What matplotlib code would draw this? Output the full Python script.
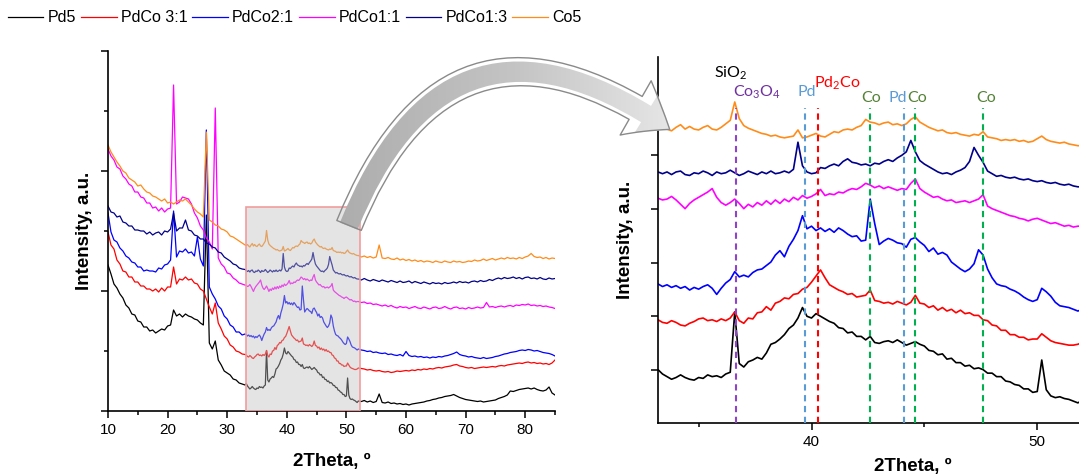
import numpy as np
import matplotlib
matplotlib.use("Agg")
import matplotlib.pyplot as plt
from matplotlib.patches import Rectangle, FancyArrowPatch
from matplotlib.ticker import MultipleLocator, FixedLocator
from matplotlib.colors import LinearSegmentedColormap

plt.rcParams['font.family'] = ['Liberation Sans', 'DejaVu Sans']
plt.rcParams['mathtext.default'] = 'regular'

# 2theta grid: 0.5 deg steps at low angle, 0.2 deg through the zoomed window, 0.5 deg above
two_theta = np.concatenate([np.linspace(10, 32.5, 46),
                            np.linspace(33, 51.8, 95),
                            np.linspace(52, 85, 67)])

# intensities (a.u., already stacked)
pd5 = [146, 137, 127, 123, 117, 113, 106, 103, 97, 96, 90, 89, 84, 84, 80, 81, 78, 80, 82, 81,
       85, 86, 101, 95, 97, 94, 97, 95, 94, 92, 91, 88, 86, 196, 68, 62, 70, 51, 46, 40,
       38, 36, 32, 31, 28, 27,
       26, 27.5, 25, 23.5, 22, 23, 24.5, 23, 22, 21.5, 23, 22.5, 24.5, 23.5, 24, 23, 25, 26, 60.5, 31,
       29, 32, 33, 34.5, 33.5, 37, 42, 43, 45, 47.5, 51, 53, 57, 63, 58, 57, 59.5, 58, 56.5, 55,
       54, 51.5, 51, 48.5, 49, 46.5, 46.5, 44.5, 46.5, 43, 42.5, 43.5, 44, 43, 44.5, 43, 41.5, 42.5, 43.5, 42,
       41, 38.5, 38, 36, 36.5, 33.5, 34, 31.5, 31.5, 29.5, 30, 28, 28.5, 27.5, 25.5, 25.5, 23.5, 23.5, 21, 20.5,
       19, 18.5, 16.5, 16.5, 14.5, 15, 33, 16, 12.5, 11.5, 12, 11, 10.5, 9.5, 8.5,
       10, 9.5, 10.5, 9, 10, 8.5, 9.5, 17, 8.5, 8, 9, 7.5, 8, 7, 7.5, 6.5, 7, 6, 7, 7.5,
       8, 8.5, 9, 10, 10.5, 11.5, 12, 13, 13.5, 14.5, 15, 15.5, 16.5, 15, 13.5, 12.5, 11.5, 11, 10.5, 10,
       9.5, 10, 9, 9.5, 10, 10.5, 11, 12.5, 13.5, 14.5, 16, 20, 19.5, 20.5, 21.5, 22, 22.5, 23, 22, 23,
       21.5, 20.5, 20, 21, 24, 18, 16]

pdco_3_1 = [179, 166, 162, 151, 147, 140, 139, 134, 134, 129, 129, 125, 125, 122, 122, 120, 122, 119, 123, 120,
            124, 124, 144, 127, 132, 131, 134, 131, 132, 128, 127, 122, 120, 112, 104, 97, 108, 88, 82, 75,
            72, 66, 64, 60, 59, 57,
            56.5, 56, 54.5, 54, 55.5, 54.5, 53, 52.5, 54, 55, 56.5, 57, 55.5, 56, 55, 56.5, 55.5, 57, 60.5, 55.5,
            54, 57, 56.5, 60, 60.5, 63.5, 61.5, 65.5, 66.5, 68.5, 68, 70.5, 71, 73.5, 74.5, 77.5, 81, 84.5, 80, 76,
            74.5, 73, 72, 70.5, 71, 69, 69.5, 70, 73, 67, 66.5, 65.5, 66, 65, 66.5, 65.5, 64.5, 66, 70, 65.5,
            65, 63, 64, 61.5, 63, 61, 62, 60, 61.5, 59.5, 60, 58.5, 58.5, 56, 55.5, 53, 52.5, 50, 50, 47.5,
            47.5, 46, 46, 44.5, 45, 45, 48, 46, 44, 43, 42.5, 42, 41.5, 41.5, 42,
            43, 42.5, 42, 41, 41.5, 40.5, 40, 40.5, 39.5, 39, 39.5, 38.5, 39, 40, 39.5, 40, 40.5, 40, 41, 40.5,
            41.5, 41, 42, 41.5, 42.5, 42, 43, 43.5, 43, 44, 44.5, 45, 46, 46.5, 45, 44.5, 43.5, 43, 43.5, 42.5,
            43, 43.5, 44, 43.5, 44, 44.5, 44, 45, 45.5, 45, 46, 46.5, 47, 47.5, 48, 47.5, 48.5, 49, 48, 48.5,
            47.5, 48, 47, 47.5, 46.5, 48, 51]

pdco_2_1 = [198, 179, 171, 169, 163, 160, 155, 153, 149, 148, 144, 144, 140, 141, 140, 140, 139, 143, 142, 146,
            147, 151, 200, 154, 160, 159, 162, 158, 159, 155, 174, 152, 145, 281, 124, 117, 112, 105, 102, 95,
            92, 86, 84, 79, 79, 76,
            77, 76.5, 75, 76, 74.5, 75.5, 74, 75, 73, 74.5, 73.5, 75, 76, 74, 70.5, 74, 77, 79, 83.5, 80.5,
            81.5, 80.5, 83, 84.5, 85, 87, 89, 93, 95.5, 92, 98, 102, 107, 115.5, 108, 109.5, 107, 108.5, 106.5, 108,
            106, 108.5, 107, 105, 103.5, 104, 101, 101.5, 125, 111, 99, 101, 102.5, 101.5, 100, 99.5, 97.5, 102, 103, 100.5,
            98.5, 95, 97, 93.5, 94.5, 93, 89, 87, 85, 83.5, 85, 88, 96, 93, 85, 80, 76.5, 75.5, 75, 73.5,
            72.5, 71, 69, 67.5, 66.5, 67.5, 74, 72, 69.5, 66, 64, 63.5, 63, 62, 61,
            62, 61, 60.5, 59.5, 60, 58.5, 59, 58, 57.5, 58, 56.5, 57, 56, 55.5, 56.5, 55, 59.5, 55.5, 54.5, 55,
            54, 54.5, 53.5, 54, 53, 54, 53.5, 54.5, 54, 55, 55.5, 56.5, 57.5, 59, 56.5, 55.5, 55, 54, 54.5, 53.5,
            53, 52.5, 53.5, 52.5, 53, 53.5, 54.5, 55, 56, 57, 57.5, 58.5, 59, 59.5, 60.5, 61, 60.5, 61.5, 61, 60,
            60.5, 59.5, 58.5, 58, 57.5, 56.5, 55]

pdco_1_1 = [262, 255, 251, 244, 242, 235, 232, 227, 225, 219, 219, 214, 213, 208, 208, 203, 204, 200, 203, 199,
            202, 203, 326, 207, 209, 214, 213, 212, 207, 198, 193, 185, 181, 173, 169, 162, 303, 153, 147, 144,
            138, 137, 133, 131, 128, 127,
            126, 125.5, 124.5, 125, 126.5, 124.5, 122, 119.5, 122.5, 124.5, 126, 127.5, 129, 131, 126, 123, 121.5, 123, 125, 122.5,
            119.5, 122, 120.5, 123, 121.5, 124, 122, 124.5, 122.5, 125, 123.5, 126, 124.5, 127, 125.5, 126.5, 128, 130.5, 127, 128,
            127.5, 129, 128.5, 130, 131, 130.5, 132, 134, 133, 131.5, 132.5, 131, 132, 131, 130, 131, 130.5, 134, 136.5, 131,
            129, 127.5, 126, 126.5, 125, 124, 124.5, 123, 123.5, 124, 123, 124, 125, 127.5, 121, 119.5, 118.5, 117.5, 116.5, 115.5,
            115, 114, 113.5, 112.5, 113.5, 114, 113, 112, 111, 111.5, 110.5, 109.5, 110, 109, 109.5,
            109.5, 108.5, 109, 107.5, 108, 106.5, 107, 106, 105, 106, 104.5, 105.5, 104, 103, 104.5, 103.5, 104, 102.5, 103.5, 104.5,
            103, 102.5, 104, 103, 102, 103.5, 104, 102.5, 103, 104.5, 103, 102, 103.5, 104, 102.5, 103, 102, 103.5, 102.5, 103,
            104, 103, 103.5, 108.5, 104, 104.5, 103.5, 104.5, 105, 104, 105, 105.5, 104.5, 106, 105.5, 106.5, 106, 107, 105.5, 106,
            105, 105.5, 104.5, 105, 104, 103.5, 102.5]

pdco_1_3 = [205, 199, 198, 194, 195, 189, 188, 185, 185, 181, 181, 180, 180, 177, 179, 176, 178, 179, 176, 180,
            179, 182, 198, 180, 183, 183, 191, 181, 180, 176, 175, 172, 172, 168, 167, 164, 163, 159, 158, 154,
            152, 150, 147, 146, 143, 142,
            141.5, 140.5, 139.5, 140.5, 139, 140.5, 141, 139, 138.5, 140, 139.5, 141, 140, 138.5, 140.5, 139.5, 140, 141.5, 140, 138.5,
            139.5, 141, 140, 139, 140.5, 139.5, 141, 139.5, 140, 141, 140, 142, 157.5, 144, 140.5, 139.5, 140, 143, 142.5, 144,
            145, 144, 146.5, 148, 146, 145.5, 144.5, 145, 144, 145.5, 145, 146.5, 147.5, 146.5, 148.5, 150, 152, 158.5, 152, 147,
            145, 143.5, 142, 140.5, 139.5, 140, 139, 140.5, 141.5, 143, 146.5, 154.5, 150, 146, 141, 139.5, 138, 138.5, 137.5, 137,
            137.5, 136.5, 136, 136.5, 135.5, 135, 135.5, 134.5, 134, 134.5, 133.5, 133, 133.5, 132.5, 132,
            132, 131, 132.5, 131, 130, 131.5, 130.5, 129.5, 131, 130, 129, 130.5, 129.5, 128.5, 130, 128.5, 129, 130, 128, 129.5,
            128.5, 127.5, 129, 128, 127, 128.5, 127.5, 128, 127, 128.5, 127.5, 128, 129, 128, 129.5, 128.5, 129, 128, 129.5, 130,
            129, 130.5, 129.5, 130, 131.5, 130.5, 132, 133, 132, 133.5, 132.5, 133, 134, 132.5, 133.5, 132, 133.5, 134, 132.5, 133,
            132, 133.5, 132, 131.5, 133, 132, 132.5]

co5 = [266, 259, 254, 249, 245, 240, 238, 233, 231, 229, 225, 226, 222, 219, 218, 215, 214, 212, 210, 212,
       208, 209, 207, 209, 211, 210, 212, 209, 206, 202, 199, 197, 194, 279, 191, 189, 186, 185, 182, 181,
       179, 175, 174, 172, 170, 168,
       166, 165.5, 166.5, 165, 164, 166, 167.5, 165, 166.5, 165, 164.5, 166, 167, 165, 164.5, 166, 168, 170, 180.5, 171,
       167, 165.5, 164.5, 163.5, 162.5, 162, 161, 161.5, 160.5, 160, 160.5, 161, 164.5, 160, 160.5, 161.5, 162.5, 161, 160.5, 162,
       163.5, 163, 164.5, 165, 164.5, 166, 167, 170.5, 169, 168.5, 167.5, 168.5, 169, 167.5, 168, 167, 168, 170.5, 172, 169,
       167.5, 166, 165, 164, 164.5, 163, 162.5, 163, 162, 161.5, 161, 162, 161.5, 163.5, 160.5, 160, 159.5, 158.5, 159, 158.5,
       159, 158, 158.5, 157.5, 158, 159.5, 161, 159, 158, 157.5, 157, 157.5, 156.5, 156, 155.5,
       155.5, 154, 155, 153.5, 154.5, 153, 154, 166, 153, 152.5, 153.5, 152, 151.5, 153, 151, 152, 150.5, 151.5, 150, 151,
       149.5, 150.5, 149, 150, 149.5, 148.5, 150, 149, 148.5, 150, 149, 148.5, 150, 149, 149.5, 148.5, 149, 150, 149.5, 151,
       150, 150.5, 152, 150.5, 151.5, 152.5, 151, 152, 153, 152, 153.5, 152.5, 153, 152, 153.5, 152.5, 154, 155, 157.5, 154.5,
       153.5, 154, 152.5, 153.5, 152, 153, 152.5]

series_names = ["Pd5", "PdCo 3:1", "PdCo2:1", "PdCo1:1", "PdCo1:3", "Co5"]
series_values = [pd5, pdco_3_1, pdco_2_1, pdco_1_1, pdco_1_3, co5]
series_colors = ["#000000", "#ff0000", "#0000ff", "#ff00ff", "#00008b", "#ff8c1a"]

# reference phase positions for the zoomed panel
phase_pos = [36.65, 39.7, 40.27, 42.6, 44.1, 44.6, 47.6]
phase_colors = ["#8e44c8", "#5b9bd5", "#ff0000", "#00b050", "#5b9bd5", "#00b050", "#00b050"]
phase_labels = ["SiO$_2$", "Co$_3$O$_4$", "Pd", "Pd$_2$Co", "Co", "Pd", "Co", "Co"]
phase_label_x = [36.42, 37.6, 39.78, 41.15, 42.65, 43.83, 44.67, 47.72]
phase_label_y = [197, 186, 186, 191, 183, 183, 183, 182.5]
phase_label_colors = ["#000000", "#7030a0", "#5b9bd5", "#ff0000", "#548235", "#5b9bd5", "#548235", "#548235"]

for vals in series_values:
    assert len(vals) == len(two_theta)

fig = plt.figure(figsize=(10.79, 4.75), dpi=100)
W, H = 1079, 475

ax1 = fig.add_axes([108 / W, (H - 411) / H, (555 - 108) / W, (411 - 51) / H])
ax2 = fig.add_axes([658 / W, (H - 423) / H, (W - 658) / W, (423 - 57) / H])

handles = []
for name, vals, col in zip(series_names, series_values, series_colors):
    h, = ax1.plot(two_theta, vals, color=col, lw=0.9, label=name)
    handles.append(h)
    ax2.plot(two_theta, vals, color=col, lw=1.2)

# highlighted window on the wide scan
ax1.add_patch(Rectangle((33.15, 0), 52.3 - 33.15, 204, facecolor="#bfbfbf", alpha=0.42,
                        edgecolor="none", zorder=5))
ax1.add_patch(Rectangle((33.15, 0), 52.3 - 33.15, 204, fill=False, edgecolor="#f29c9c",
                        lw=1.2, zorder=6))

ax1.set_xlim(10, 85)
ax1.set_ylim(0, 360)
ax1.xaxis.set_major_locator(MultipleLocator(10))
ax1.xaxis.set_minor_locator(MultipleLocator(5))
ax1.yaxis.set_major_locator(MultipleLocator(120))
ax1.yaxis.set_minor_locator(MultipleLocator(60))
ax1.set_yticklabels([])

ax2.set_xlim(33.2, 51.85)
ax2.set_ylim(-3, 206.2)
ax2.xaxis.set_major_locator(FixedLocator([40, 50]))
ax2.xaxis.set_minor_locator(FixedLocator([35, 45]))
ax2.yaxis.set_major_locator(FixedLocator([27.3, 58.2, 88.7, 119.1, 150.2]))
ax2.set_yticklabels([])

ax2.vlines(phase_pos, -3, 177, colors=phase_colors, linestyles=(0, (3, 2.2)), lw=1.5, zorder=3)
for lab, x, y, c in zip(phase_labels, phase_label_x, phase_label_y, phase_label_colors):
    ax2.text(x, y, lab, color=c, fontsize=11.5, ha="center", va="center",
             family=["Lato", "DejaVu Sans"])

for ax in (ax1, ax2):
    for side in ("top", "right"):
        ax.spines[side].set_visible(False)
    for side in ("left", "bottom"):
        ax.spines[side].set_linewidth(1.2)
    ax.tick_params(which="major", direction="out", length=5, width=1.1, labelsize=11)
    ax.tick_params(which="minor", direction="out", length=3, width=1.1)
    ax.set_xlabel("2Theta, º", fontsize=13.5, fontweight="bold")
    ax.set_ylabel("Intensity, a.u.", fontsize=13.5, fontweight="bold")

ax1.xaxis.set_label_coords(0.5, -0.117)
ax1.yaxis.set_label_coords(-0.034, 0.5)
ax2.xaxis.set_label_coords(0.605, -0.096)
ax2.yaxis.set_label_coords(-0.057, 0.5)

fig.legend(handles=handles, loc="upper left", bbox_to_anchor=(0.004, 0.985), ncol=6,
           frameon=False, fontsize=11.5, handlelength=2.25, handletextpad=0.25,
           columnspacing=0.3, borderaxespad=0, borderpad=0.2)

# curved grey arrow from the window to the zoomed panel
axo = fig.add_axes([0, 0, 1, 1], zorder=10)
axo.set_xlim(0, W)
axo.set_ylim(H, 0)
axo.axis("off")
axo.patch.set_alpha(0)
arrow = FancyArrowPatch((348, 228), (672, 131), connectionstyle="arc3,rad=-0.63",
                        arrowstyle="simple,head_length=29,head_width=45,tail_width=19",
                        mutation_scale=1, facecolor="none", edgecolor="#8a8a8a", lw=1.0, zorder=3)
axo.add_patch(arrow)
grey_map = LinearSegmentedColormap.from_list("greys", ["#acacac", "#c4c4c4", "#ececec"])
grad = axo.imshow(np.linspace(0, 1, 256).reshape(1, -1), cmap=grey_map, extent=[330, 700, 260, 20],
                  aspect="auto", zorder=2)
grad.set_clip_path(arrow)
axo.set_xlim(0, W)
axo.set_ylim(H, 0)

fig.savefig("out.png", dpi=100)
